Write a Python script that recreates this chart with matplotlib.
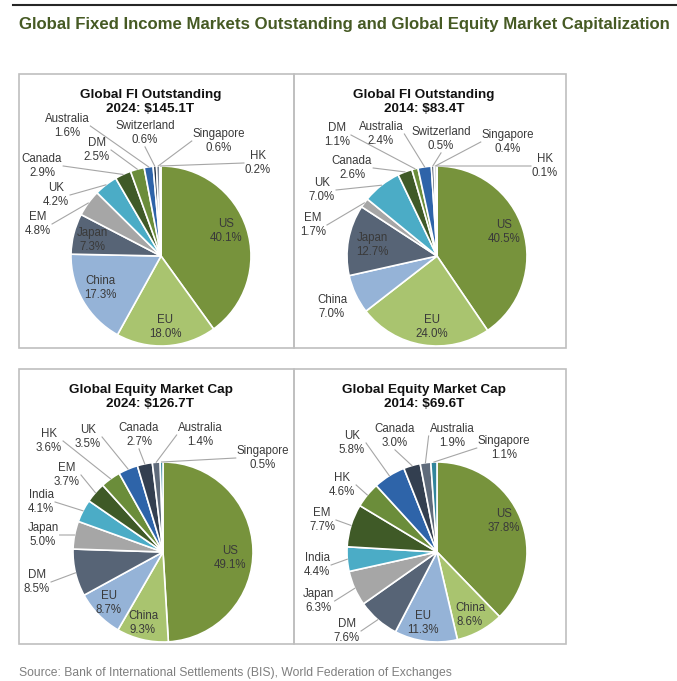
import matplotlib.pyplot as plt
from matplotlib.patches import Rectangle
import numpy as np

plt.rcParams['font.family'] = ['Liberation Sans', 'DejaVu Sans']

W, H = 677, 681

# --- data (shares in %) ---
fi_labels = ['US', 'EU', 'China', 'Japan', 'EM', 'UK', 'Canada', 'DM',
             'Australia', 'Switzerland', 'Singapore', 'HK']
fi_2024 = [40.1, 18.0, 17.3, 7.3, 4.8, 4.2, 2.9, 2.5, 1.6, 0.6, 0.6, 0.2]
fi_2014 = [40.5, 24.0, 7.0, 12.7, 1.7, 7.0, 2.6, 1.1, 2.4, 0.5, 0.4, 0.1]

eq_labels = ['US', 'China', 'EU', 'DM', 'Japan', 'India', 'EM', 'HK', 'UK',
             'Canada', 'Australia', 'Singapore']
eq_2024 = [49.1, 9.3, 8.7, 8.5, 5.0, 4.1, 3.7, 3.6, 3.5, 2.7, 1.4, 0.5]
eq_2014 = [37.8, 8.6, 11.3, 7.6, 6.3, 4.4, 7.7, 4.6, 5.8, 3.0, 1.9, 1.1]

panel_titles = ['Global FI Outstanding\n2024: $145.1T',
                'Global FI Outstanding\n2014: $83.4T',
                'Global Equity Market Cap\n2024: $126.7T',
                'Global Equity Market Cap\n2014: $69.6T']

# --- styles ---
fi_colors = {'US': '#77933C', 'EU': '#A9C46F', 'China': '#95B3D7', 'Japan': '#576476',
             'EM': '#A6A6A6', 'UK': '#4BACC6', 'Canada': '#3F5A27', 'DM': '#6B8D3A',
             'Australia': '#2E64A9', 'Switzerland': '#2B3A4E', 'Singapore': '#7A8594',
             'HK': '#D9D9D9'}
eq_colors = {'US': '#77933C', 'China': '#A9C46F', 'EU': '#95B3D7', 'DM': '#576476',
             'Japan': '#A6A6A6', 'India': '#4BACC6', 'EM': '#3F5A27', 'HK': '#6B8D3A',
             'UK': '#2E64A9', 'Canada': '#333F50', 'Australia': '#5F6B7B',
             'Singapore': '#31859C'}

# label layout (pixel positions, y from top)
pos_fi24 = {'US': (226, 231), 'EU': (165, 327), 'China': (100, 288), 'Japan': (92, 240),
            'EM': (38, 224), 'UK': (56, 195), 'Canada': (42, 166), 'DM': (97, 150),
            'Australia': (67, 126), 'Switzerland': (145, 133), 'Singapore': (219, 141),
            'HK': (258, 163)}
pos_fi14 = {'US': (504, 232), 'EU': (432, 327), 'China': (332, 307), 'Japan': (372, 245),
            'EM': (313, 225), 'UK': (322, 190), 'Canada': (352, 168), 'DM': (337, 135),
            'Australia': (381, 134), 'Switzerland': (441, 139), 'Singapore': (508, 142),
            'HK': (545, 166)}
pos_eq24 = {'US': (230, 558), 'China': (143, 623), 'EU': (109, 603), 'DM': (37, 582),
            'Japan': (43, 535), 'India': (41, 502), 'EM': (67, 475), 'HK': (49, 441),
            'UK': (88, 437), 'Canada': (139, 435), 'Australia': (200, 435),
            'Singapore': (263, 458)}
pos_eq14 = {'US': (504, 521), 'China': (470, 615), 'EU': (423, 623), 'DM': (347, 631),
            'Japan': (318, 601), 'India': (317, 565), 'EM': (322, 520), 'HK': (342, 485),
            'UK': (352, 443), 'Canada': (395, 436), 'Australia': (452, 436),
            'Singapore': (504, 448)}
fi_inside = ['US', 'EU', 'China', 'Japan']
eq_inside = ['US', 'China', 'EU']

fig = plt.figure(figsize=(W / 100, H / 100), dpi=100)
ax = fig.add_axes([0, 0, 1, 1])
renderer = fig.canvas.get_renderer()

R = 90


def draw_pie(values, labels, colors, center, positions, inside, title, box):
    cx, cy = center[0], H - center[1]
    wedges, _ = ax.pie(values, colors=[colors[l] for l in labels], startangle=90,
                       counterclock=False, center=(cx, cy), radius=R,
                       wedgeprops=dict(edgecolor='white', linewidth=1.2))
    bx, by, bw, bh = box
    ax.add_patch(Rectangle((bx, H - by - bh), bw, bh, fill=False,
                           edgecolor='#BFBFBF', linewidth=1.2))
    ax.text(bx + bw / 2 - 6, H - by - 28, title, ha='center', va='center',
            fontsize=9.7, fontweight='bold', color='#111111', linespacing=1.25)
    for w, lab, v in zip(wedges, labels, values):
        lx, ly = positions[lab]
        ly = H - ly
        t = ax.text(lx, ly, f'{lab}\n{v:.1f}%', ha='center', va='center',
                    fontsize=8.3, color='#3A3A3A', linespacing=1.2)
        if lab in inside:
            continue
        if lab == 'China' and values is fi_2014:
            continue
        ang = np.deg2rad((w.theta1 + w.theta2) / 2)
        ex, ey = cx + R * np.cos(ang), cy + R * np.sin(ang)
        bb = t.get_window_extent(renderer)
        tw, th = bb.width, bb.height
        if abs(ex - lx) < tw / 2 and ey < ly:
            sx, sy = lx, ly - th / 2 - 1
        elif ex > lx:
            sx, sy = lx + tw / 2 + 1, ly
        else:
            sx, sy = lx - tw / 2 - 1, ly
        ax.plot([sx, ex], [sy, ey], color='#A6A6A6', linewidth=0.8)


draw_pie(fi_2024, fi_labels, fi_colors, (161, 256), pos_fi24, fi_inside,
         panel_titles[0], (19, 74, 275, 274))
draw_pie(fi_2014, fi_labels, fi_colors, (437, 256), pos_fi14, fi_inside,
         panel_titles[1], (294, 74, 272, 274))
draw_pie(eq_2024, eq_labels, eq_colors, (163, 552), pos_eq24, eq_inside,
         panel_titles[2], (19, 369, 275, 275))
draw_pie(eq_2014, eq_labels, eq_colors, (437, 552), pos_eq14, eq_inside,
         panel_titles[3], (294, 369, 272, 275))

ax.plot([13, W], [H - 5, H - 5], color='#262626', linewidth=1.5)
ax.text(19, H - 25, 'Global Fixed Income Markets Outstanding and Global Equity Market Capitalization',
        ha='left', va='center', fontsize=12.05, fontweight='bold', color='#465A24')
ax.text(19, H - 673, 'Source: Bank of International Settlements (BIS), World Federation of Exchanges',
        ha='left', va='center', fontsize=8.7, color='#7F7F7F')

ax.set_xlim(0, W)
ax.set_ylim(0, H)
ax.set_aspect('auto')
ax.set_position([0, 0, 1, 1])
ax.axis('off')

fig.savefig('out.png', dpi=100)
